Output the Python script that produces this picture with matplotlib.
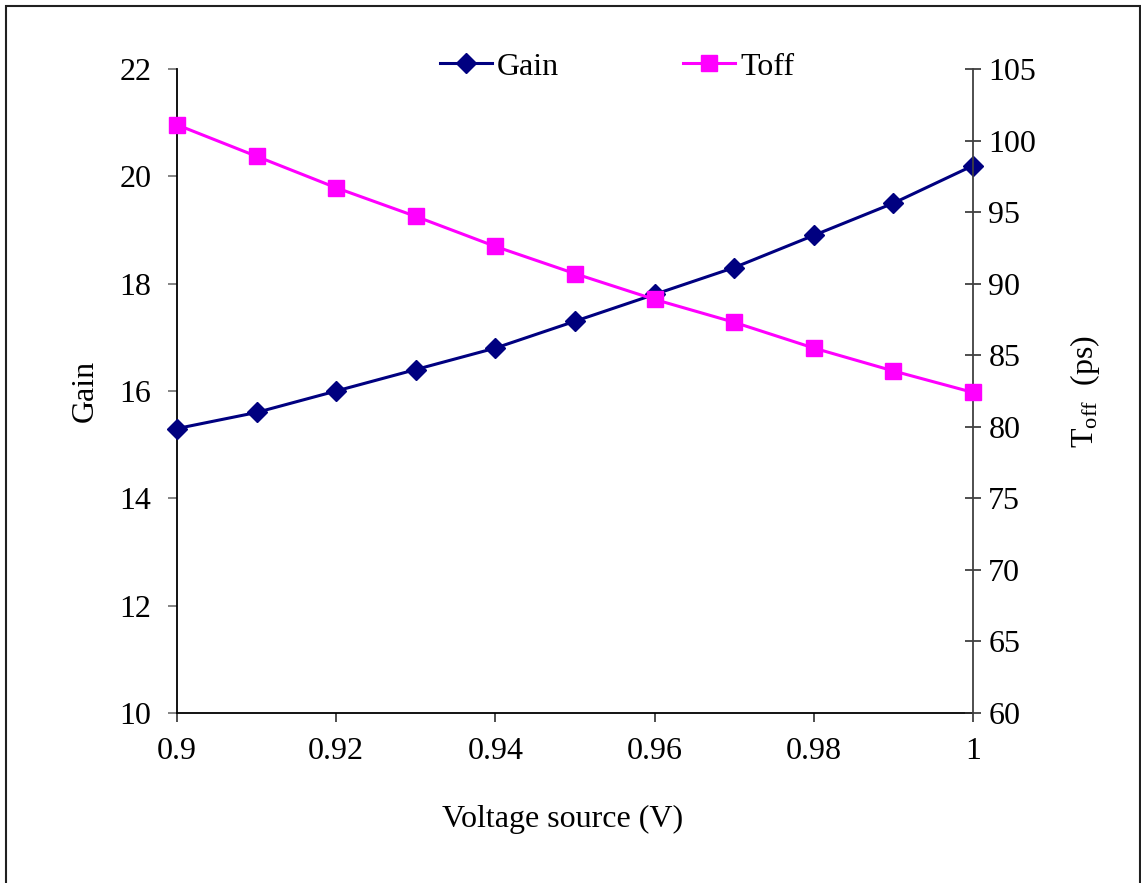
import matplotlib
matplotlib.use("Agg")
import matplotlib.pyplot as plt
from matplotlib.patches import Rectangle

plt.rcParams['font.family'] = ['Liberation Serif', 'DejaVu Serif']
plt.rcParams['mathtext.fontset'] = 'custom'
plt.rcParams['mathtext.rm'] = 'Liberation Serif'
plt.rcParams['mathtext.it'] = 'Liberation Serif:italic'

voltage = [0.90, 0.91, 0.92, 0.93, 0.94, 0.95, 0.96, 0.97, 0.98, 0.99, 1.00]
gain = [15.3, 15.6, 16.0, 16.4, 16.8, 17.3, 17.8, 18.3, 18.9, 19.5, 20.2]
toff = [101.1, 98.9, 96.7, 94.7, 92.6, 90.7, 88.9, 87.3, 85.5, 83.9, 82.4]

x_ticks = [0.9, 0.92, 0.94, 0.96, 0.98, 1.0]
x_labels = ["0.9", "0.92", "0.94", "0.96", "0.98", "1"]
gain_ticks = [10, 12, 14, 16, 18, 20, 22]
toff_ticks = [60, 65, 70, 75, 80, 85, 90, 95, 100, 105]

W, H = 1141, 883
fig = plt.figure(figsize=(W / 100, H / 100), dpi=100)
fig.patch.set_facecolor('white')

# outer frame
fig.patches.append(Rectangle((6 / W, -0.05), (1140 - 6) / W, 1 + 0.05 - 6 / H,
                             transform=fig.transFigure, fill=False,
                             edgecolor='#202020', linewidth=1.5))

left, right, top, bottom = 177 / W, 973 / W, 1 - 69 / H, 1 - 713 / H
ax = fig.add_axes([left, bottom, right - left, top - bottom])
ax2 = ax.twinx()

fs = 23
navy = '#000080'
magenta = '#FF00FF'

l1, = ax.plot(voltage, gain, color=navy, lw=2.2, marker='D', ms=10,
              markeredgecolor=navy, markerfacecolor=navy, clip_on=False, zorder=3)
l2, = ax2.plot(voltage, toff, color=magenta, lw=2.2, marker='s', ms=11,
               markeredgecolor=magenta, markerfacecolor=magenta, clip_on=False, zorder=3)

ax.set_xlim(0.9, 1.0)
ax.set_ylim(10, 22)
ax2.set_ylim(60, 105)

ax.set_xticks(x_ticks)
ax.set_xticklabels(x_labels, fontsize=fs)
ax.set_yticks(gain_ticks)
ax.set_yticklabels([str(v) for v in gain_ticks], fontsize=fs)
ax2.set_yticks(toff_ticks)
ax2.set_yticklabels([str(v) for v in toff_ticks], fontsize=fs)

for a in (ax, ax2):
    a.spines['top'].set_visible(False)
ax2.spines['left'].set_visible(False)
ax2.spines['bottom'].set_visible(False)
ax.spines['right'].set_visible(False)
ax.spines['left'].set_color('black')
ax.spines['bottom'].set_color('black')
ax2.spines['right'].set_color('#404040')
for a in (ax, ax2):
    for s in a.spines.values():
        s.set_linewidth(1.3)

ax.tick_params(axis='x', direction='out', length=6.5, width=1.2, color='#303030', pad=11)
ax.tick_params(axis='y', direction='out', length=6.5, width=1.2, color='#707070', pad=12)
ax2.tick_params(axis='y', direction='inout', length=12, width=1.2, color='#303030', pad=5)

ax.set_xlabel('Voltage source (V)', fontsize=fs)
ax.xaxis.set_label_coords(0.485, -0.142)
ax.set_ylabel('Gain', fontsize=fs, labelpad=14)
ax2.set_ylabel(r'T$_{\mathrm{off}}$  (ps)', fontsize=fs, labelpad=23)

fig.legend([l1, l2], ['Gain', 'Toff'], loc='center', ncol=2,
           bbox_to_anchor=(617 / W, 1 - 67 / H), frameon=False,
           fontsize=fs, handlelength=1.63, handletextpad=0.15, columnspacing=3.9,
           borderpad=0, borderaxespad=0)

fig.savefig('out.png', dpi=100, facecolor='white')
